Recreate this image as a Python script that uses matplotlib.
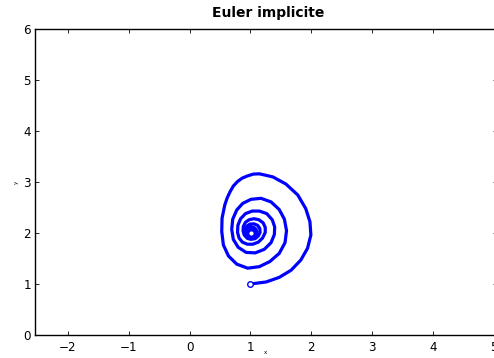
import matplotlib
matplotlib.use("Agg")
import matplotlib.pyplot as plt

# trajectory (implicit Euler, spiral into (1, 2))
traj_x = [1.00, 1.26, 1.475, 1.67, 1.83, 1.94, 1.995, 1.98, 1.91, 1.78, 1.585, 1.37, 1.15,
          1.05, 0.955, 0.865, 0.79, 0.72, 0.667, 0.62, 0.58, 0.535, 0.53, 0.557, 0.64, 0.776,
          0.956, 1.148, 1.32,
          1.475, 1.57, 1.595, 1.56, 1.475, 1.34, 1.175, 1.01, 0.874, 0.776, 0.71, 0.694,
          0.72, 0.80, 0.93, 1.08, 1.23, 1.34,
          1.395, 1.40, 1.36, 1.27, 1.15, 1.03, 0.92, 0.84, 0.795, 0.79, 0.815, 0.87, 0.95,
          1.04, 1.13, 1.20,
          1.245, 1.245, 1.21, 1.14, 1.06, 0.98, 0.92, 0.885, 0.88, 0.90, 0.95, 1.01, 1.08, 1.13,
          1.16, 1.155, 1.12, 1.06, 0.995, 0.95, 0.925, 0.925, 0.945, 0.99, 1.05, 1.09,
          1.105, 1.095, 1.055, 1.00, 0.96, 0.95, 0.96, 0.995, 1.04, 1.065,
          1.07, 1.05, 1.01, 0.98, 0.975, 0.99, 1.02, 1.04,
          1.035, 1.01, 0.995, 1.00, 1.005]
traj_y = [1.00, 1.04, 1.13, 1.27, 1.47, 1.70, 1.96, 2.22, 2.48, 2.745, 2.96, 3.10, 3.16,
          3.155, 3.12, 3.075, 3.01, 2.92, 2.81, 2.69, 2.55, 2.29, 2.03, 1.765, 1.55, 1.39,
          1.31, 1.34, 1.44,
          1.60, 1.81, 2.045, 2.27, 2.46, 2.61, 2.68, 2.66, 2.58, 2.45, 2.27, 2.07,
          1.875, 1.72, 1.62, 1.61, 1.68, 1.81,
          1.97, 2.12, 2.26, 2.38, 2.43, 2.43, 2.38, 2.28, 2.15, 2.01, 1.90, 1.82, 1.78,
          1.78, 1.82, 1.90,
          2.01, 2.11, 2.20, 2.26, 2.28, 2.26, 2.21, 2.13, 2.04, 1.96, 1.895, 1.875, 1.89, 1.94,
          2.01, 2.09, 2.15, 2.18, 2.175, 2.14, 2.08, 2.02, 1.96, 1.925, 1.93, 1.965,
          2.02, 2.075, 2.11, 2.115, 2.09, 2.04, 1.995, 1.965, 1.97, 2.00,
          2.04, 2.07, 2.08, 2.06, 2.02, 1.995, 1.995, 2.015,
          2.035, 2.045, 2.03, 2.01, 2.005]

x_ticks = [-2, -1, 0, 1, 2, 3, 4, 5]
y_ticks = [0, 1, 2, 3, 4, 5, 6]
title = "Euler implicite"

plt.rcParams['font.family'] = ['DejaVu Sans']

W, H = 494, 358
fig = plt.figure(figsize=(W / 100, H / 100), dpi=100)

# axes box in pixels (right edge falls just outside the image)
left_px, right_px, top_px, bottom_px = 35, 496.7, 29, 335
ax = fig.add_axes([left_px / W, 1 - bottom_px / H,
                   (right_px - left_px) / W, (bottom_px - top_px) / H])

ax.plot(traj_x, traj_y, color='#0000ff', lw=2.3, solid_capstyle='round',
        solid_joinstyle='round')
ax.plot(traj_x[0], traj_y[0], 'o', ms=4, mfc='white', mec='#0000ff', mew=1.0)
ax.plot(traj_x[-1], traj_y[-1], 'o', ms=4, mfc='white', mec='#0000ff', mew=1.0)

ax.set_xlim(-2.54, 5.05)
ax.set_ylim(0, 6)
ax.set_xticks(x_ticks)
ax.set_yticks(y_ticks)
ax.set_xticklabels([str(t).replace('-', '\u2212') for t in x_ticks])
ax.tick_params(direction='in', length=3, width=0.6, top=True, right=True,
               labelsize=8.6, pad=3)
ax.tick_params(axis='x', pad=4)
for s in ax.spines.values():
    s.set_linewidth(1.0)
    s.set_color('black')

ax.set_xlabel('x', fontsize=4)
ax.xaxis.set_label_coords(0.5, -0.049)
ax.set_ylabel('y', fontsize=4, labelpad=3)

fig.text(268 / W, 1 - 17 / H, title, ha='center', va='baseline',
         fontsize=10, fontweight='bold')

fig.savefig('out.png', dpi=100)
